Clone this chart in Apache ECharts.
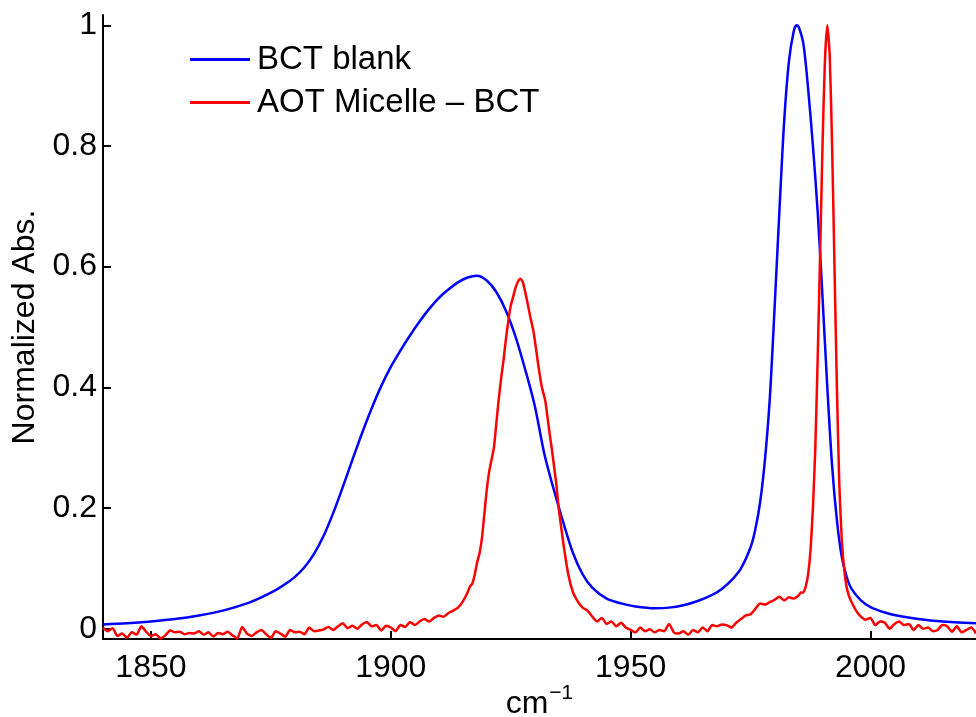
<!DOCTYPE html>
<html>
<head>
<meta charset="utf-8">
<script src="https://cdn.jsdelivr.net/npm/echarts@6/dist/echarts.min.js"></script>
<style>
html,body{margin:0;padding:0;background:#fff;}
#chart{width:976px;height:717px;}
</style>
</head>
<body>
<div id="chart"></div>
<script>
// ---- data ----
const seriesNames = ['BCT blank', 'AOT Micelle \u2013 BCT'];
const xTicks = [1850, 1900, 1950, 2000];
const yTicks = [0, 0.2, 0.4, 0.6, 0.8, 1];

const blueX = [1840,1845,1850,1855,1860,1865,1870,1873,1876,1878,1880,1882,1884,1886,1888,1890,1892,1894,1896,1898,1900,1902,1904,1906,1908,1910,1912,1914,1916,1918,1920,1922,1924,1926,1928,1930,1932,1934,1936,1938,1940,1942,1945,1948,1951,1955,1958,1961,1964,1967,1969,1971,1973,1975,1976,1977,1978,1979,1980,1981,1982,1983,1984,1984.6,1985,1986,1987,1988,1989,1990,1991,1992,1993,1994,1995,1996,1998,2000,2003,2006,2010,2015,2022];
const blueY = [0.007,0.009,0.012,0.016,0.022,0.030,0.042,0.052,0.064,0.074,0.086,0.102,0.124,0.154,0.192,0.235,0.28,0.324,0.365,0.402,0.434,0.461,0.486,0.509,0.53,0.548,0.562,0.574,0.582,0.585,0.577,0.558,0.527,0.484,0.43,0.37,0.29,0.23,0.175,0.125,0.09,0.068,0.05,0.042,0.037,0.034,0.035,0.039,0.046,0.056,0.066,0.08,0.1,0.135,0.165,0.21,0.28,0.38,0.53,0.69,0.84,0.94,0.99,1.0,0.998,0.97,0.895,0.80,0.69,0.55,0.40,0.27,0.18,0.12,0.087,0.067,0.047,0.036,0.027,0.021,0.016,0.012,0.009];

const redX = [1840,1841,1842,1843,1844,1845,1846,1847,1848,1849,1850,1851,1852,1853,1854,1855,1856,1857,1858,1859,1860,1861,1862,1863,1864,1865,1866,1867,1868,1869,1870,1871,1872,1873,1874,1875,1876,1877,1878,1879,1880,1881,1882,1883,1884,1885,1886,1887,1888,1889,1890,1891,1892,1893,1894,1895,1896,1897,1898,1899,1900,1901,1902,1903,1904,1905,1906,1907,1908,1909,1910,1911,1912,1913,
1914,1915,1916,1916.5,1917,1917.5,1918,1918.5,1919,1919.5,1920,1920.5,1921,1921.5,1922,1922.5,1923,1923.5,1924,1924.5,1925,1925.5,1926,1926.5,1927,1927.5,1928.4,1929,1929.8,1930.8,1931.5,1932.2,1933,1933.6,1934.5,1935,1936,1937,1938,1939,1940,1941,1942,
1943,1944,1945,1946,1947,1948,1949,1950,1951,1952,1953,1954,1955,1956,1957,1958,1959,1960,1961,1962,1963,1964,1965,1966,1967,1968,1969,1970,1971,1972,1973,1974,1975,1976,1977,1978,1979,1980,1981,1982,1983,
1984,1985,1985.5,1986,1986.5,1987,1987.5,1988,1988.5,1989,1989.5,1990,1990.5,1991,1991.5,1992,1992.5,1993,1993.5,1994,1994.5,1995,1995.5,1996,1997,
1998,1999,2000,2001,2002,2003,2004,2005,2006,2007,2008,2009,2010,2011,2012,2013,2014,2015,2016,2017,2018,2019,2020,2021,2022];
const redY = [0.002,-0.004,0.001,-0.012,-0.008,-0.015,-0.006,-0.010,0.004,-0.005,-0.012,-0.009,-0.016,-0.011,-0.003,-0.006,-0.005,-0.009,-0.007,-0.008,-0.004,-0.010,-0.006,-0.013,-0.007,-0.009,-0.005,-0.011,-0.016,0.003,-0.008,-0.012,-0.006,-0.002,-0.009,-0.015,-0.004,-0.008,-0.013,-0.002,-0.006,-0.005,-0.009,0.002,-0.004,-0.003,-0.001,0.003,-0.002,0.004,0.009,0.001,0.005,0.0,0.007,0.011,0.004,0.006,-0.003,0.005,0.002,-0.004,0.006,0.003,0.011,0.006,0.012,0.016,0.012,0.018,0.022,0.02,0.026,0.03,
0.035,0.045,0.06,0.07,0.075,0.09,0.11,0.125,0.15,0.19,0.23,0.26,0.28,0.30,0.34,0.38,0.415,0.445,0.48,0.51,0.535,0.55,0.565,0.575,0.58,0.575,0.544,0.52,0.49,0.434,0.40,0.378,0.33,0.296,0.24,0.2,0.14,0.09,0.06,0.045,0.035,0.03,0.02,
0.012,0.018,0.008,0.012,0.004,0.01,0.002,-0.002,-0.006,0.002,-0.004,-0.001,-0.006,-0.002,-0.004,0.008,-0.006,-0.008,-0.004,-0.010,-0.002,-0.006,0.002,-0.004,0.006,0.004,0.007,0.006,0.002,0.010,0.016,0.022,0.024,0.033,0.042,0.040,0.044,0.048,0.053,0.047,0.052,
0.05,0.055,0.06,0.06,0.07,0.09,0.13,0.2,0.3,0.45,0.62,0.8,0.94,1.0,0.95,0.8,0.6,0.4,0.24,0.15,0.1,0.07,0.055,0.045,0.03,
0.02,0.015,0.018,0.006,0.012,0.01,0.0,0.008,0.012,0.006,0.008,-0.002,0.006,0.0,0.002,-0.004,-0.002,0.006,0.004,-0.005,0.004,-0.006,-0.002,0.002,-0.008];

// ---- chart ----
const FONT = '"Liberation Sans", Arial, Helvetica, sans-serif';
const chart = echarts.init(document.getElementById('chart'), null, {renderer: 'canvas'});
const zip = (xs, ys) => xs.map((x, i) => [x, ys[i]]);

chart.setOption({
  animation: false,
  backgroundColor: '#fff',
  textStyle: {fontFamily: FONT},
  grid: {left: 103, top: 15, right: 0, bottom: 78, containLabel: false, outerBoundsMode: 'none'},
  legend: {
    left: 190, top: 43, orient: 'vertical', itemGap: 10, padding: 0,
    itemWidth: 60, itemHeight: 3, icon: 'rect',
    textStyle: {fontFamily: FONT, fontSize: 33, color: '#000', padding: [0, 0, 0, 2]},
    data: seriesNames
  },
  xAxis: {
    type: 'value', min: 1840, max: 2022,
    name: 'cm{sup|\u22121}', nameLocation: 'middle', nameGap: 44, nameMoveOverlap: false,
    nameTextStyle: {fontFamily: FONT, fontSize: 32, color: '#000',
      rich: {sup: {fontFamily: FONT, fontSize: 21, color: '#000', verticalAlign: 'top', padding: [0,0,22,1]}}},
    axisLine: {show: true, onZero: false, lineStyle: {color: '#000', width: 2}},
    axisTick: {show: true, inside: true, length: 8, lineStyle: {color: '#000', width: 2}, customValues: xTicks},
    axisLabel: {fontFamily: FONT, fontSize: 32, color: '#000', margin: 13, customValues: xTicks,
      formatter: v => String(v)},
    splitLine: {show: false}
  },
  yAxis: {
    type: 'value', min: -0.017, max: 1.017,
    name: 'Normalized Abs.', nameLocation: 'middle', nameGap: 62, nameRotate: 90, nameMoveOverlap: false,
    nameTextStyle: {fontFamily: FONT, fontSize: 32, color: '#000'},
    axisLine: {show: true, onZero: false, lineStyle: {color: '#000', width: 2}},
    axisTick: {show: true, inside: true, length: 8, lineStyle: {color: '#000', width: 2}, customValues: yTicks},
    axisLabel: {fontFamily: FONT, fontSize: 32, color: '#000', margin: 6, customValues: yTicks,
      padding: [6, 0, 0, 0],
      formatter: v => String(Math.round(v * 10) / 10)},
    splitLine: {show: false}
  },
  series: [
    {name: seriesNames[0], type: 'line', data: zip(blueX, blueY), showSymbol: false, smooth: 0.3,
      lineStyle: {color: '#0000ff', width: 2.5}, itemStyle: {color: '#0000ff'}, z: 2},
    {name: seriesNames[1], type: 'line', data: zip(redX, redY), showSymbol: false, smooth: 0.2,
      lineStyle: {color: '#ff0000', width: 2.5}, itemStyle: {color: '#ff0000'}, z: 3}
  ]
});
</script>
</body>
</html>
